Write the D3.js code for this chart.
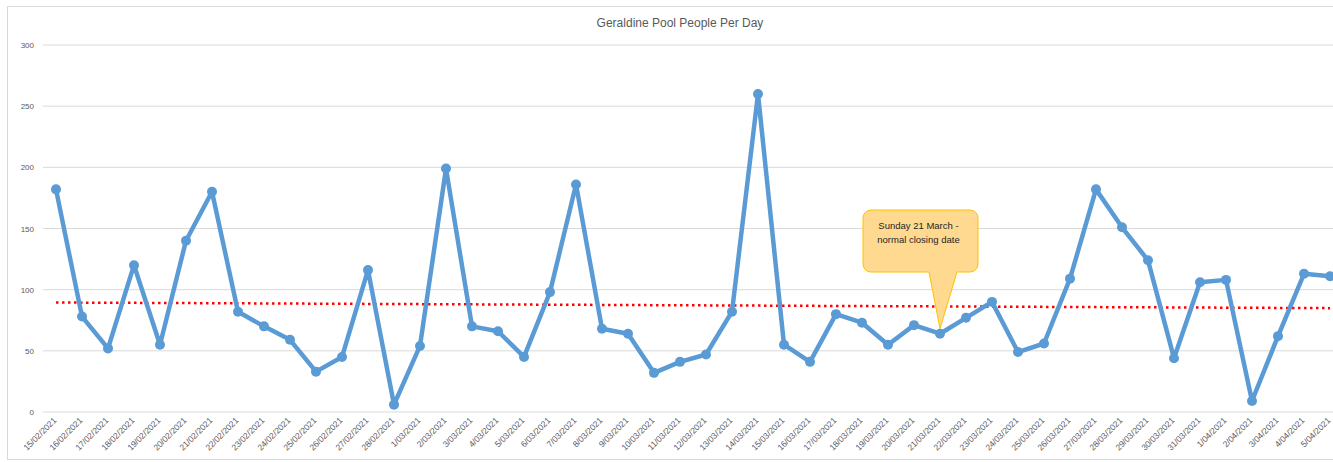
<!DOCTYPE html>
<html>
<head>
    <meta charset="utf-8">
    <title>Geraldine Pool People Per Day</title>
    <script src="https://d3js.org/d3.v7.min.js"></script>
    <style>
        body{ margin: 0; background: #fff; }
        text{ font-family: "Liberation Sans", Arial, sans-serif; }
    </style>
</head>
<body>
    <svg id="chart" width="1333" height="462"></svg>
    <script>
        var dates = ["15/02/2021","16/02/2021","17/02/2021","18/02/2021","19/02/2021","20/02/2021","21/02/2021",
            "22/02/2021","23/02/2021","24/02/2021","25/02/2021","26/02/2021","27/02/2021","28/02/2021",
            "1/03/2021","2/03/2021","3/03/2021","4/03/2021","5/03/2021","6/03/2021","7/03/2021",
            "8/03/2021","9/03/2021","10/03/2021","11/03/2021","12/03/2021","13/03/2021","14/03/2021",
            "15/03/2021","16/03/2021","17/03/2021","18/03/2021","19/03/2021","20/03/2021","21/03/2021",
            "22/03/2021","23/03/2021","24/03/2021","25/03/2021","26/03/2021","27/03/2021","28/03/2021",
            "29/03/2021","30/03/2021","31/03/2021","1/04/2021","2/04/2021","3/04/2021","4/04/2021","5/04/2021"];
        var people = [182,78,52,120,55,140,180,
            82,70,59,33,45,116,6,
            54,199,70,66,45,98,186,
            68,64,32,41,47,82,260,
            55,41,80,73,55,71,64,
            77,90,49,56,109,182,151,
            124,44,106,108,9,62,113,111];
        var yTicks = [0,50,100,150,200,250,300];
        var title = "Geraldine Pool People Per Day";
        var noteDate = "21/03/2021";
        var noteLines = ["Sunday 21 March -", "normal closing date"];

        var svg = d3.select("#chart");

        // chart frame
        svg.append("rect")
            .attr("x", 7.5).attr("y", 6.5)
            .attr("width", 1340).attr("height", 453)
            .attr("fill", "#fff").attr("stroke", "#d9d9d9");

        var x = d3.scalePoint().domain(dates).range([43, 1343]).padding(0.5);
        var y = d3.scaleLinear().domain([0, 300]).range([412, 45]);

        // gridlines
        svg.append("g").selectAll("line").data(yTicks).enter().append("line")
            .attr("x1", 43).attr("x2", 1343)
            .attr("y1", function(d){ return y(d); })
            .attr("y2", function(d){ return y(d); })
            .attr("stroke", "#d9d9d9").attr("stroke-width", 1);

        // y labels
        svg.append("g").selectAll("text").data(yTicks).enter().append("text")
            .attr("x", 34).attr("y", function(d){ return y(d) + 3; })
            .attr("text-anchor", "end")
            .attr("font-size", 8).attr("fill", "#595959")
            .text(function(d){ return d; });

        // x labels
        svg.append("g").selectAll("text").data(dates).enter().append("text")
            .attr("transform", function(d){ return "translate(" + (x(d) + 1) + ",421) rotate(-45)"; })
            .attr("text-anchor", "end")
            .attr("font-size", 8.5).attr("fill", "#595959")
            .text(function(d){ return d; });

        // title
        svg.append("text")
            .attr("x", 680).attr("y", 27)
            .attr("text-anchor", "middle")
            .attr("font-size", 12).attr("fill", "#595959")
            .text(title);

        // linear trendline (least squares)
        var n = people.length;
        var mx = d3.mean(d3.range(n)), my = d3.mean(people);
        var sxy = d3.sum(people, function(v, i){ return (i - mx) * (v - my); });
        var sxx = d3.sum(d3.range(n), function(i){ return (i - mx) * (i - mx); });
        var slope = sxy / sxx, icpt = my - slope * mx;
        svg.append("line")
            .attr("x1", x(dates[0])).attr("y1", y(icpt))
            .attr("x2", x(dates[n - 1])).attr("y2", y(icpt + slope * (n - 1)))
            .attr("stroke", "#ff0000").attr("stroke-width", 2.5)
            .attr("stroke-dasharray", "2.5,3.5");

        // series line
        var line = d3.line()
            .x(function(d, i){ return x(dates[i]); })
            .y(function(d){ return y(d); });
        svg.append("path").datum(people)
            .attr("d", line)
            .attr("fill", "none").attr("stroke", "#5b9bd5")
            .attr("stroke-width", 4.5).attr("stroke-linejoin", "round");

        svg.append("g").selectAll("circle").data(people).enter().append("circle")
            .attr("cx", function(d, i){ return x(dates[i]); })
            .attr("cy", function(d){ return y(d); })
            .attr("r", 5).attr("fill", "#5b9bd5");

        // callout
        var tipX = x(noteDate), tipY = y(people[dates.indexOf(noteDate)]) - 5;
        var bx = 863, by = 210, bw = 115, bh = 62, r = 8;
        var p = d3.path();
        p.moveTo(bx + r, by);
        p.lineTo(bx + bw - r, by);
        p.arcTo(bx + bw, by, bx + bw, by + r, r);
        p.lineTo(bx + bw, by + bh - r);
        p.arcTo(bx + bw, by + bh, bx + bw - r, by + bh, r);
        p.lineTo(957, by + bh);
        p.lineTo(tipX, tipY);
        p.lineTo(929, by + bh);
        p.lineTo(bx + r, by + bh);
        p.arcTo(bx, by + bh, bx, by + bh - r, r);
        p.lineTo(bx, by + r);
        p.arcTo(bx, by, bx + r, by, r);
        p.closePath();
        svg.append("path").attr("d", p.toString())
            .attr("fill", "#ffd98f").attr("stroke", "#ffc000").attr("stroke-width", 1);

        svg.append("g").selectAll("text").data(noteLines).enter().append("text")
            .attr("x", bx + bw / 2 - 2)
            .attr("y", function(d, i){ return 229 + i * 14; })
            .attr("text-anchor", "middle")
            .attr("font-size", 9.5).attr("fill", "#262626")
            .text(function(d){ return d; });
    </script>
</body>
</html>
